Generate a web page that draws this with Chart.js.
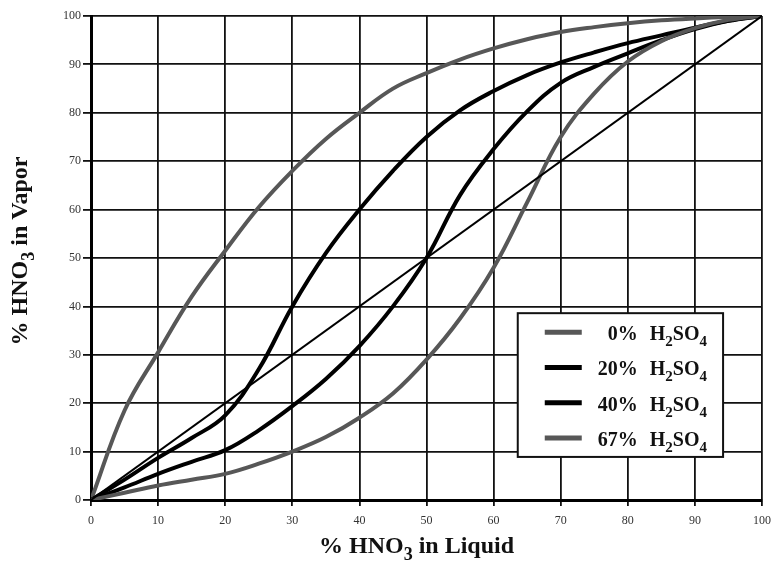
<!DOCTYPE html>
<html>
<head>
<meta charset="utf-8">
<title>HNO3 vapor-liquid equilibrium</title>
<script src="https://cdn.jsdelivr.net/npm/chart.js@4.4.1/dist/chart.umd.min.js"></script>
<style>
  body { margin: 0; background: #fff; }
  #wrap { width: 780px; height: 561px; }
</style>
</head>
<body>
<div id="wrap"><canvas id="grafico"></canvas></div>
<script>
// % HNO3 in liquid (x) and the matching % HNO3 in vapor for each H2SO4 level
const liquidPct = [0, 5, 10, 15, 20, 25, 30, 35, 40, 45, 50, 55, 60, 65, 70, 75, 80, 85, 90, 95, 100]
const vapor0 = [0, 1.5, 3, 4.2, 5.4, 7.5, 10, 13, 17, 22, 29, 37.5, 48, 61.5, 75, 84, 90.6, 94.8, 97.5, 99.2, 100]
const vapor20 = [0, 2.6, 5.4, 7.9, 10.3, 14.4, 19.4, 25, 31.8, 40, 50, 63, 72.5, 80.3, 86.2, 89.5, 92.3, 95, 97.3, 99, 100]
const vapor40 = [0, 4.2, 8.7, 12.8, 17.5, 27, 40, 51, 60, 68, 75, 80.5, 84.5, 87.8, 90.4, 92.5, 94.4, 96, 97.6, 99, 100]
const vapor67 = [0, 18.5, 30.5, 42, 51.5, 60.5, 68, 74.6, 80, 85, 88.2, 91, 93.3, 95.2, 96.7, 97.7, 98.5, 99.1, 99.5, 99.8, 100]
const diagonal = [0, 100]
const seriesLabels = ['0% H2SO4', '20% H2SO4', '40% H2SO4', '67% H2SO4']

const serif = "'Liberation Serif', 'Times New Roman', serif"
const grey = '#575757'
const black = '#000'

const toPoints = (ys) => ys.map((y, i) => ({ x: liquidPct[i], y: y }))

// splits "H2SO4" style text so digits after a letter become subscripts
const chemParts = (text) => {
  const parts = []
  let prev = ''
  for (const ch of text) {
    const last = parts[parts.length - 1]
    const sub = /\d/.test(ch) && (/[A-Za-z]/.test(prev) || (last && last.sub && /\d/.test(prev)))
    if (last && last.sub === sub) last.t += ch
    else parts.push({ t: ch, sub: sub })
    prev = ch
  }
  return parts
}

const drawChem = (ctx, text, x, y, size, align) => {
  const subSize = Math.round(size * 0.75)
  const drop = Math.round(size * 0.3)
  const parts = chemParts(text)
  let total = 0
  parts.forEach((p) => {
    ctx.font = `bold ${p.sub ? subSize : size}px ${serif}`
    p.w = ctx.measureText(p.t).width
    total += p.w
  })
  let cx = x
  if (align === 'center') cx = x - total / 2
  if (align === 'right') cx = x - total
  ctx.textAlign = 'left'
  ctx.textBaseline = 'alphabetic'
  parts.forEach((p) => {
    ctx.font = `bold ${p.sub ? subSize : size}px ${serif}`
    ctx.fillText(p.t, cx, p.sub ? y + drop : y)
    cx += p.w
  })
}

const extraText = {
  id: 'extraText',
  afterDraw(chart) {
    const { ctx, chartArea, scales } = chart
    ctx.save()
    ctx.fillStyle = '#111'
    drawChem(ctx, '% HNO3 in Liquid', (chartArea.left + chartArea.right) / 2 - 10, 553, 24, 'center')
    ctx.translate(27, 251)
    ctx.rotate(-Math.PI / 2)
    drawChem(ctx, '% HNO3 in Vapor', 0, 0, 24, 'center')
    ctx.restore()

    // legend box inside the plot, lower right
    const left = scales.x.getPixelForValue(63.6)
    const right = scales.x.getPixelForValue(94.2)
    const top = scales.y.getPixelForValue(38.6)
    const bottom = scales.y.getPixelForValue(8.9)
    ctx.save()
    ctx.fillStyle = '#fff'
    ctx.fillRect(left, top, right - left, bottom - top)
    ctx.strokeStyle = '#111'
    ctx.lineWidth = 2
    ctx.strokeRect(left, top, right - left, bottom - top)
    const rows = chart.data.datasets.filter((d) => d.inLegend)
    rows.forEach((d, i) => {
      const cy = top + 19 + i * 35.3
      ctx.strokeStyle = d.borderColor
      ctx.lineWidth = 5
      ctx.beginPath()
      ctx.moveTo(left + 27, cy)
      ctx.lineTo(left + 64, cy)
      ctx.stroke()
      const [pct, chem] = d.label.split(' ')
      ctx.fillStyle = '#111'
      drawChem(ctx, pct, left + 120, cy + 8, 20, 'right')
      drawChem(ctx, chem, left + 132, cy + 8, 20, 'left')
    })
    ctx.restore()
  }
}

const curve = (label, ys, color) => ({
  label: label,
  data: toPoints(ys),
  borderColor: color,
  borderWidth: 4,
  pointRadius: 0,
  tension: 0.4,
  inLegend: true
})

const datasets = [
  {
    label: 'x = y',
    data: diagonal.map((v) => ({ x: v, y: v })),
    borderColor: black,
    borderWidth: 2,
    pointRadius: 0,
    inLegend: false
  },
  curve(seriesLabels[0], vapor0, grey),
  curve(seriesLabels[1], vapor20, black),
  curve(seriesLabels[2], vapor40, black),
  curve(seriesLabels[3], vapor67, grey)
]

const tickFont = { family: serif, size: 12 }

new Chart(document.querySelector('#grafico'), {
  type: 'line',
  data: { datasets: datasets },
  options: {
    responsive: true,
    maintainAspectRatio: false,
    animation: false,
    layout: { padding: { top: 16, right: 18, left: 0, bottom: 0 } },
    plugins: {
      legend: { display: false },
      tooltip: { enabled: false }
    },
    scales: {
      x: {
        type: 'linear',
        min: 0,
        max: 100,
        ticks: { stepSize: 10, color: '#333', font: tickFont, padding: 8, maxRotation: 0 },
        grid: { color: '#111', lineWidth: 1.8, tickLength: 6 },
        border: { color: '#000', width: 3 },
        afterFit: (scale) => { scale.height = 61 }
      },
      y: {
        min: 0,
        max: 100,
        ticks: { stepSize: 10, color: '#333', font: tickFont, padding: 2 },
        grid: { color: '#111', lineWidth: 1.8, tickLength: 8 },
        border: { color: '#000', width: 3 },
        afterFit: (scale) => { scale.width = 91 }
      }
    }
  },
  plugins: [extraText]
})
</script>
</body>
</html>
